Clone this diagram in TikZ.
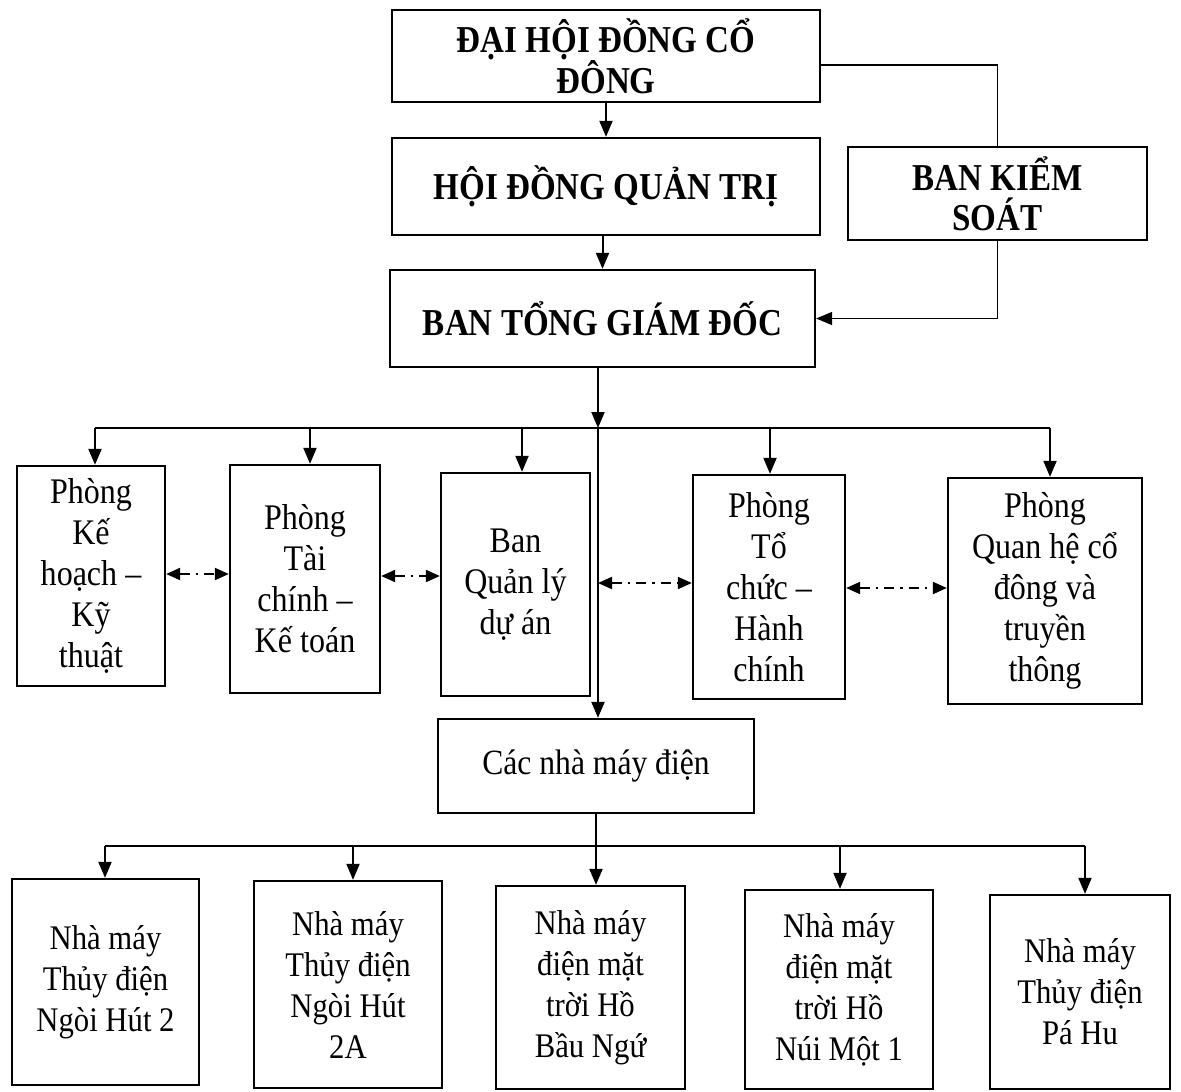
\documentclass[tikz,border=0pt]{standalone}
\usepackage{fontspec}
\setmainfont{Liberation Serif}
\newfontfamily\rfont[FakeStretch=0.89]{Liberation Serif}
\newfontfamily\bfont[FakeStretch=0.87]{Liberation Serif}
\usetikzlibrary{arrows.meta}
\begin{document}
\begin{tikzpicture}[x=1pt,y=-1pt,
  box/.style={draw, line width=2.3pt, align=center, inner sep=0pt,
    font=\rfont\fontsize{36}{41}\selectfont},
  mbox/.style={box, font=\rfont\fontsize{35.5}{41}\selectfont},
  lbox/.style={box, font=\rfont\fontsize{34.5}{41}\selectfont},
  tbox/.style={box, font=\bfont\fontsize{38}{40}\selectfont\bfseries},
  conn/.style={line width=2pt},
  thin conn/.style={line width=1.6pt},
  tip/.tip={Triangle[length=16pt,width=13pt]},
  arr/.style={conn, -tip},
  darr/.style={conn, {Triangle[length=14pt,width=12pt]}-{Triangle[length=14pt,width=12pt]},
    dash pattern=on 10pt off 6pt on 2.5pt off 6pt}]
\useasboundingbox (0,0) rectangle (1181,1092);

% top levels
\node[tbox, minimum width=428pt, minimum height=92pt] (dhd) at (606,56) {ĐẠI HỘI ĐỒNG CỔ\\ĐÔNG};
\node[tbox, minimum width=428pt, minimum height=97pt] (hdqt) at (606,186.5) {HỘI ĐỒNG QUẢN TRỊ};
\node[tbox, minimum width=425pt, minimum height=97pt] (btgd) at (602.5,318.5) {BAN TỔNG GIÁM ĐỐC};
\node[tbox, minimum width=299pt, minimum height=93pt] (bks) at (997.5,193.5) {BAN KIỂM\\SOÁT};

% departments
\node[box, minimum width=148pt, minimum height=220pt] (p1) at (91,576) {Phòng\\Kế\\hoạch –\\Kỹ\\thuật};
\node[box, minimum width=150pt, minimum height=228pt] (p2) at (305,579) {Phòng\\Tài\\chính –\\Kế toán};
\node[box, minimum width=149pt, minimum height=223pt] (p3) at (515.5,584.5) {Ban\\Quản lý\\dự án};
\node[box, minimum width=152pt, minimum height=224pt] (p4) at (769,587) {Phòng\\Tổ\\chức –\\Hành\\chính};
\node[box, minimum width=194pt, minimum height=226pt] (p5) at (1045,591) {Phòng\\Quan hệ cổ\\đông và\\truyền\\thông};

% plants
\node[mbox, minimum width=316pt, minimum height=94pt] (nmd) at (596,766) {Các nhà máy điện};
\node[lbox, minimum width=187pt, minimum height=206pt] (b1) at (105.5,982) {Nhà máy\\Thủy điện\\Ngòi Hút 2};
\node[lbox, minimum width=188pt, minimum height=207pt] (b2) at (348,984.5) {Nhà máy\\Thủy điện\\Ngòi Hút\\2A};
\node[lbox, minimum width=189pt, minimum height=203pt] (b3) at (590.5,987.5) {Nhà máy\\điện mặt\\trời Hồ\\Bầu Ngứ};
\node[lbox, minimum width=188pt, minimum height=199pt] (b4) at (839,989.5) {Nhà máy\\điện mặt\\trời Hồ\\Núi Một 1};
\node[lbox, minimum width=180pt, minimum height=194pt] (b5) at (1080,992) {Nhà máy\\Thủy điện\\Pá Hu};

% top connectors
\draw[arr] (dhd.south) -- (hdqt.north);
\draw[arr] (btgd.north |- hdqt.south) -- (btgd.north);
\draw[thin conn] ([yshift=-9pt]dhd.east) -| (bks.north);
\draw[thin conn, -tip] (bks.south) |- (btgd.east);

% bus 1
\coordinate (bus1) at (598,428);
\coordinate (d1) at (95,428);
\coordinate (d2) at (310,428);
\coordinate (d3) at (522,428);
\coordinate (d4) at (770,428);
\coordinate (d5) at (1050,428);
\draw[arr] (btgd.south -| bus1) -- (bus1);
\draw[conn] (d1) -- (d5);
\draw[arr] (d1) -- (d1 |- p1.north);
\draw[arr] (d2) -- (d2 |- p2.north);
\draw[arr] (d3) -- (d3 |- p3.north);
\draw[arr] (d4) -- (d4 |- p4.north);
\draw[arr] (d5) -- (d5 |- p5.north);
\draw[arr] (bus1) -- (bus1 |- nmd.north);

% dash-dot links
\draw[darr] (p1.east |- 0,574) -- (p2.west |- 0,574);
\draw[darr] (p2.east |- 0,576) -- (p3.west |- 0,576);
\coordinate (l3) at (598,583);
\draw[darr] (l3) -- (p4.west |- l3);
\draw[darr] (p4.east |- 0,588) -- (p5.west |- 0,588);

% bus 2
\coordinate (bus2) at (596,846);
\coordinate (e1) at (105,846);
\coordinate (e2) at (353,846);
\coordinate (e3) at (596,846);
\coordinate (e4) at (840,846);
\coordinate (e5) at (1085,846);
\draw[conn] (nmd.south) -- (bus2);
\draw[conn] (e1) -- (e5);
\draw[arr] (e1) -- (e1 |- b1.north);
\draw[arr] (e2) -- (e2 |- b2.north);
\draw[arr] (e3) -- (e3 |- b3.north);
\draw[arr] (e4) -- (e4 |- b4.north);
\draw[arr] (e5) -- (e5 |- b5.north);
\end{tikzpicture}
\end{document}
